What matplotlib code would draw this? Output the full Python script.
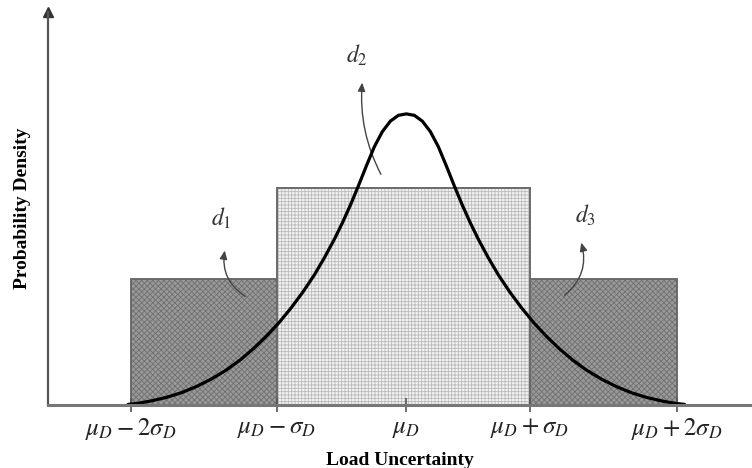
import numpy as np
import matplotlib as mpl
import matplotlib.pyplot as plt
mpl.use('agg')

plt.rcParams['mathtext.fontset'] = 'stix'
plt.rcParams['hatch.linewidth'] = 0.6

# bin edges in units of sigma around the mean, and bar heights (peak of curve = 1)
edges = [-2.17, -1.02, 0.0, 0.97, 2.13]
bin_left = [-2.17, -1.02, 0.97]
bin_right = [-1.02, 0.97, 2.13]
bin_height = [0.433, 0.746, 0.433]
tick_labels = [r'$\mu_D-2\sigma_D$', r'$\mu_D-\sigma_D$', r'$\mu_D$',
               r'$\mu_D+\sigma_D$', r'$\mu_D+2\sigma_D$']

# half profile of the density curve: distance from the mean (sigma units) and height
half_dist = [0.0, 0.063, 0.126, 0.189, 0.252, 0.315, 0.378, 0.441, 0.504, 0.567,
             0.646, 0.724, 0.811, 0.906, 1.0, 1.102, 1.205, 1.307, 1.417, 1.535,
             1.654, 1.772, 1.89, 2.008, 2.11, 2.19]
half_height = [1.0, 0.995, 0.975, 0.939, 0.887, 0.821, 0.752, 0.686, 0.625, 0.569,
               0.505, 0.447, 0.390, 0.334, 0.284, 0.236, 0.193, 0.155, 0.120, 0.089,
               0.063, 0.042, 0.026, 0.014, 0.006, 0.002]
curve_x = [-d for d in half_dist[::-1]] + half_dist[1:]
curve_y = half_height[::-1] + half_height[1:]

# d1..d3 labels: (label pos, arrow head, arrow tail, bend)
d_labels = [r'$d_1$', r'$d_2$', r'$d_3$']
d_text_xy = [(-1.46, 0.64), (-0.39, 1.20), (1.41, 0.65)]
d_head_xy = [(-1.425, 0.54), (-0.346, 1.117), (1.37, 0.567)]
d_tail_xy = [(-1.25, 0.368), (-0.19, 0.784), (1.228, 0.371)]
d_bend = [-0.35, -0.15, 0.35]

fig = plt.figure(figsize=(7.52, 4.68), dpi=100)
ax = fig.add_axes([48 / 752, 63 / 468, 704 / 752, 393 / 468])

widths = np.array(bin_right) - np.array(bin_left)
fills = ['#999999', '#f2f2f2', '#999999']
hatch_cols = ['#707070', '#bbbbbb', '#707070']
hatches = ['xxxxxx', '+++++', 'xxxxxx']
for l, w, h, fc, hc, ht in zip(bin_left, widths, bin_height, fills, hatch_cols, hatches):
    ax.bar(l, h, width=w, align='edge', color=fc, edgecolor=hc, hatch=ht, linewidth=0)
    ax.bar(l, h, width=w, align='edge', fill=False, edgecolor='#6a6a6a', linewidth=1.4)

ax.plot(curve_x, curve_y, color='black', lw=2.3, solid_joinstyle='round',
        solid_capstyle='round', zorder=5)

for lab, txy, hxy, sxy, rad in zip(d_labels, d_text_xy, d_head_xy, d_tail_xy, d_bend):
    ax.text(txy[0], txy[1], lab, fontsize=17, color='#333333', ha='center', va='center')
    ax.annotate('', xy=hxy, xytext=sxy,
                arrowprops=dict(arrowstyle='-|>,head_length=0.5,head_width=0.22',
                                color='#444444', lw=1.0,
                                connectionstyle=f'arc3,rad={rad}'))

ax.set_xlim(-2.82, 2.72)
ax.set_ylim(0, 1.35)
for s in ['top', 'right']:
    ax.spines[s].set_visible(False)
ax.spines['left'].set_color('#555555')
ax.spines['left'].set_linewidth(1.6)
ax.spines['bottom'].set_color('#777777')
ax.spines['bottom'].set_linewidth(2.2)
ax.spines['bottom'].set_zorder(6)
ax.plot(0, 1.0, '^', color='#333333', markersize=7, transform=ax.transAxes, clip_on=False)

ax.set_yticks([])
ax.set_xticks(edges)
ax.set_xticklabels(tick_labels, fontsize=18, color='#222222')
ax.tick_params(axis='x', direction='inout', length=10, width=1.2, color='#555555', pad=3)

ax.set_xlabel('Load Uncertainty', fontsize=14, fontweight='bold', family='Liberation Serif',
              labelpad=7)
ax.set_ylabel('Probability Density', fontsize=14, fontweight='bold', family='Liberation Serif',
              labelpad=12)

fig.savefig('out.png', dpi=100)
